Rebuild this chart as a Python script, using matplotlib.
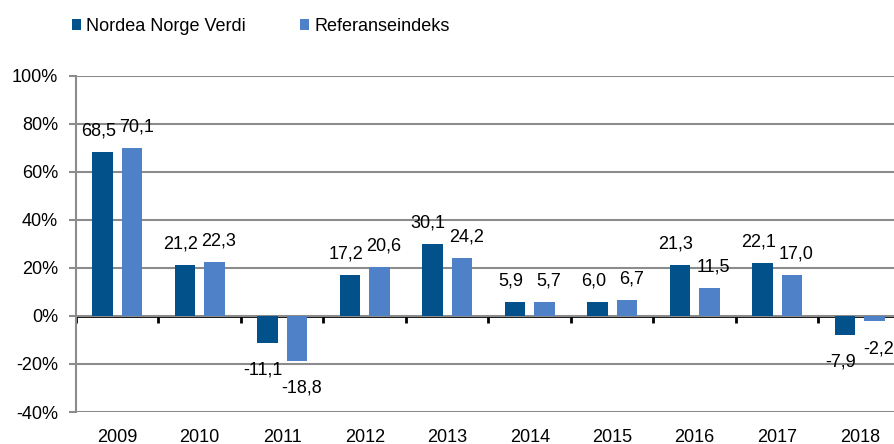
import matplotlib.pyplot as plt
import numpy as np

years = ['2009', '2010', '2011', '2012', '2013', '2014', '2015', '2016', '2017', '2018']
fund = [68.5, 21.2, -11.1, 17.2, 30.1, 5.9, 6.0, 21.3, 22.1, -7.9]
index = [70.1, 22.3, -18.8, 20.6, 24.2, 5.7, 6.7, 11.5, 17.0, -2.2]
series_names = ['Nordea Norge Verdi', 'Referanseindeks']

dark = '#02518A'
light = '#4F81C8'
grid_col = '#8C8C8C'

plt.rcParams['font.family'] = ['Liberation Sans', 'DejaVu Sans']
fs = 13

fig = plt.figure(figsize=(8.95, 4.44), dpi=100)
ax = fig.add_axes([76 / 895, 32 / 444, 825 / 895, 336 / 444])

x = np.arange(len(years))
w = 0.25
off = 0.18
b1 = ax.bar(x - off, fund, w, color=dark, label=series_names[0], zorder=3)
b2 = ax.bar(x + off, index, w, color=light, label=series_names[1], zorder=3)

# labels nudged sideways a little, as in the original
for bars, vals, dx in ((b1, fund, -3), (b2, index, 3)):
    for rect, v in zip(bars, vals):
        cx = rect.get_x() + rect.get_width() / 2
        txt = f'{v:.1f}'.replace('.', ',')
        if v >= 0:
            ax.annotate(txt, (cx, v), xytext=(dx, 9), textcoords='offset points',
                        ha='center', va='bottom', fontsize=fs)
        else:
            ax.annotate(txt, (cx, v), xytext=(dx, -13.5), textcoords='offset points',
                        ha='center', va='top', fontsize=fs)

ax.set_xlim(-0.5, len(years) - 0.5)
ax.set_ylim(-40, 100)
ax.set_yticks(np.arange(-40, 101, 20))
ax.set_yticklabels([f'{t}%' for t in range(-40, 101, 20)], fontsize=fs)
ax.yaxis.grid(True, color=grid_col, lw=1.5, zorder=0)
ax.tick_params(axis='y', length=5, width=1.5, color=grid_col, pad=8)

ax.set_xticks(x)
ax.set_xticklabels(years, fontsize=fs)
ax.tick_params(axis='x', length=0, pad=12)

for s in ('top', 'right', 'bottom'):
    ax.spines[s].set_visible(False)
ax.spines['left'].set_color(grid_col)
ax.spines['left'].set_linewidth(1.5)

# zero line with category boundary ticks
sec = ax.secondary_xaxis(40 / 140)
sec.set_xticks(np.arange(-0.5, len(years), 1.0))
sec.set_xticklabels([])
sec.tick_params(axis='x', length=5, width=2, color='black', direction='out')
sec.spines['bottom'].set_color('black')
sec.spines['bottom'].set_linewidth(2)
sec.spines['bottom'].set_zorder(4)

fig.legend(handles=[b1, b2], labels=series_names, loc='upper left',
           bbox_to_anchor=(54 / 895, 1.0), ncol=2, frameon=False, fontsize=fs,
           handlelength=0.5, handleheight=0.5, handletextpad=0.3, columnspacing=3.0,
           borderaxespad=0.6)

fig.savefig('out.png', dpi=100)
